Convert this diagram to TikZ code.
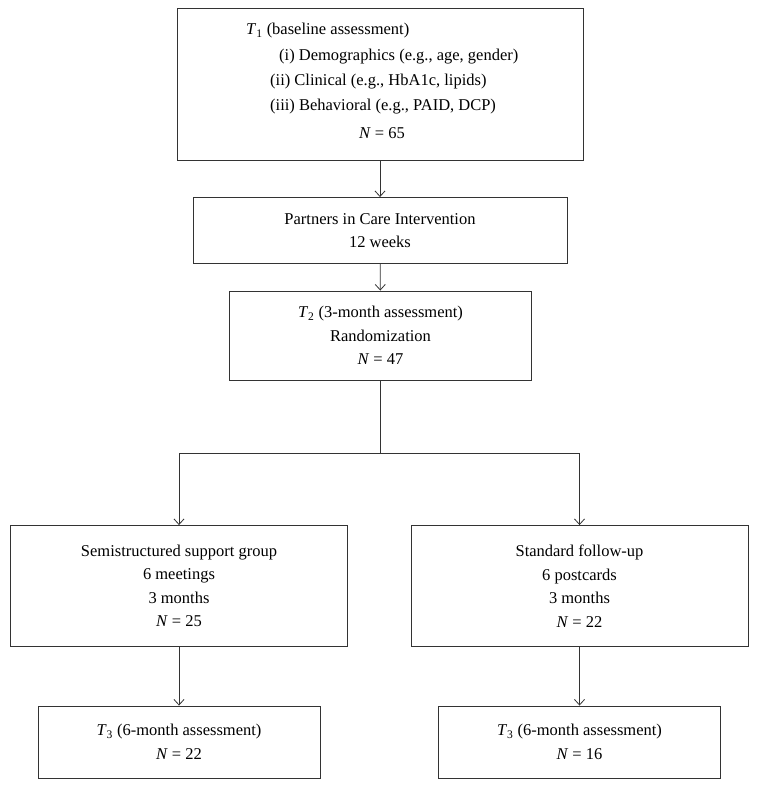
\documentclass[tikz,border=0pt]{standalone}
\usepackage{fontspec}
\setmainfont{Liberation Serif}
\usepackage{tikz}
\usetikzlibrary{arrows.meta}

\begin{document}
\begin{tikzpicture}[x=1pt, y=-1pt,
        box/.style={draw=black!80, line width=0.9pt, rectangle, inner sep=0pt,
            align=center, font=\fontsize{16.5}{23.5}\selectfont},
        txt/.style={inner sep=0pt, font=\fontsize{16.5}{23.5}\selectfont},
        arr/.style={draw=black!80, line width=0.8pt, -{Straight Barb[length=5.5pt, width=10pt]}},
        link/.style={draw=black!80, line width=0.8pt}]
    \useasboundingbox (0,0) rectangle (758,789);

    % Baseline assessment
    \node[box, minimum width=406, minimum height=152] (base) at (380,84) {};
    \node[txt, anchor=west] (tone) at (246,31) {\textit{T}\textsubscript{1} (baseline assessment)};
    \node[txt, anchor=west] (demo) at (279,57) {(i) Demographics (e.g., age, gender)};
    \node[txt, anchor=west] (clin) at (270,82) {(ii) Clinical (e.g., HbA1c, lipids)};
    \node[txt, anchor=west] (behav) at (270,107) {(iii) Behavioral (e.g., PAID, DCP)};
    \node[txt] (nbase) at (382,133) {\textit{N} = 65};

    % Intervention and randomization
    \node[box, minimum width=374, minimum height=66] (pic) at (380,230.5)
        {Partners in Care Intervention\\12 weeks};
    \node[box, minimum width=302, minimum height=89] (ttwo) at (380.5,335.5)
        {\textit{T}\textsubscript{2} (3-month assessment)\\Randomization\\\textit{N} = 47};

    % Two arms
    \node[box, minimum width=337, minimum height=121] (sup) at (179,586)
        {Semistructured support group\\6 meetings\\3 months\\\textit{N} = 25};
    \node[box, minimum width=337, minimum height=121] (std) at (579.5,586)
        {Standard follow-up\\6 postcards\\3 months\\\textit{N} = 22};

    % Six-month assessments
    \node[box, minimum width=282, minimum height=72] (supT) at (179,742)
        {\textit{T}\textsubscript{3} (6-month assessment)\\\textit{N} = 22};
    \node[box, minimum width=282, minimum height=72] (stdT) at (579.5,742)
        {\textit{T}\textsubscript{3} (6-month assessment)\\\textit{N} = 16};

    % Connectors
    \coordinate (split) at (380.5,453);
    \draw[arr] (base) -- (pic);
    \draw[arr] (pic) -- (ttwo);
    \draw[link] (ttwo) -- (split);
    \draw[arr] (split) -| (sup);
    \draw[arr] (split) -| (std);
    \draw[arr] (sup) -- (supT);
    \draw[arr] (std) -- (stdT);
\end{tikzpicture}
\end{document}
